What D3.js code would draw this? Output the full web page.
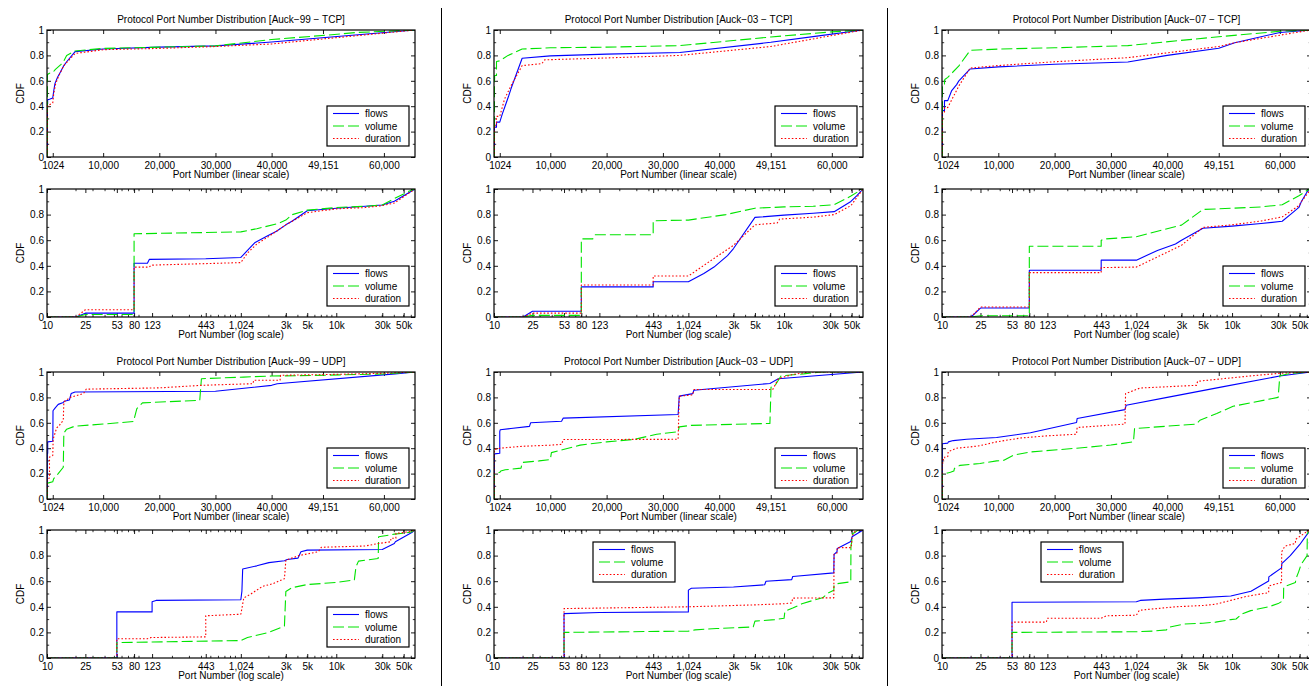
<!DOCTYPE html>
<html>
<head>
<meta charset="utf-8">
<script src="https://cdn.jsdelivr.net/npm/d3@7"></script>
<style>
  html, body { margin: 0; padding: 0; background: #fff; }
  svg { display: block; }
  text { font-family: "Liberation Sans", Arial, Helvetica, sans-serif; fill: #000; }
</style>
</head>
<body>
<svg id="chart" width="1309" height="686"></svg>
<script>
// ---- CDF of port numbers: [port, cumulative fraction] ----
const tcp99Flows = [[10,0],[20,0],[25,0.03],[80,0.03],[80,0.42],[110,0.42],[115,0.45],[443,0.455],[1024,0.465],[1200,0.52],[1424,0.58],[1900,0.63],[2400,0.67],[3000,0.72],[3500,0.75],[5000,0.83],[10000,0.85],[20000,0.865],[30000,0.875],[40000,0.905],[65535,1]];
const tcp99Volume = [[10,0],[20,0],[25,0.02],[80,0.02],[80,0.65],[443,0.66],[1024,0.665],[1500,0.69],[2500,0.73],[3000,0.757],[3500,0.8],[5000,0.835],[10000,0.855],[20000,0.865],[30000,0.875],[40000,0.925],[50000,0.96],[55000,0.98],[65535,1]];
const tcp99Duration = [[10,0],[20,0],[25,0.057],[80,0.057],[80,0.39],[115,0.39],[120,0.405],[1024,0.425],[1200,0.5],[1500,0.57],[2000,0.63],[3000,0.72],[5000,0.815],[10000,0.845],[20000,0.855],[30000,0.87],[40000,0.89],[65535,1]];

const tcp03Flows = [[10,0],[20,0],[25,0.045],[80,0.045],[80,0.235],[443,0.235],[443,0.275],[1024,0.275],[1480,0.34],[1885,0.39],[2600,0.48],[3000,0.535],[5000,0.778],[10000,0.796],[20000,0.81],[33000,0.823],[49151,0.903],[57000,0.95],[65535,1]];
const tcp03Volume = [[10,0],[20,0],[25,0.013],[80,0.013],[80,0.61],[105,0.61],[110,0.642],[443,0.642],[443,0.752],[1024,0.757],[2500,0.8],[5000,0.85],[10000,0.86],[20000,0.865],[33000,0.877],[49151,0.945],[60000,0.985],[65535,1]];
const tcp03Duration = [[10,0],[20,0],[25,0.03],[80,0.03],[80,0.25],[443,0.25],[443,0.32],[1024,0.32],[1880,0.457],[3000,0.56],[5000,0.72],[8500,0.735],[9000,0.765],[20000,0.78],[33000,0.8],[49151,0.87],[65535,1]];

const tcp07Flows = [[10,0],[20,0],[25,0.07],[80,0.07],[80,0.365],[443,0.365],[443,0.444],[1024,0.444],[1690,0.52],[2600,0.57],[3000,0.6],[5000,0.693],[10000,0.71],[20000,0.73],[33000,0.748],[40000,0.8],[49151,0.856],[52000,0.9],[60000,0.98],[65535,1]];
const tcp07Volume = [[10,0],[20,0],[25,0.01],[80,0.01],[80,0.553],[443,0.553],[443,0.6],[500,0.61],[1024,0.627],[3000,0.718],[5000,0.84],[10000,0.85],[20000,0.86],[33000,0.877],[49151,0.947],[60000,0.99],[65535,1]];
const tcp07Duration = [[10,0],[20,0],[25,0.078],[80,0.078],[80,0.347],[443,0.347],[443,0.386],[1024,0.39],[3000,0.56],[5000,0.7],[10000,0.72],[20000,0.75],[33000,0.782],[49151,0.87],[52000,0.9],[65535,1]];

const udp99Flows = [[10,0],[53,0],[53,0.36],[123,0.36],[123,0.44],[135,0.45],[1024,0.455],[1050,0.52],[1070,0.695],[1500,0.72],[2000,0.745],[2900,0.76],[3100,0.77],[4000,0.78],[4300,0.83],[5000,0.843],[30000,0.848],[40000,0.895],[41000,0.908],[62000,0.985],[65535,1]];
const udp99Volume = [[10,0],[53,0],[53,0.12],[123,0.125],[1024,0.136],[1200,0.16],[2000,0.2],[2900,0.25],[3000,0.52],[3500,0.55],[5000,0.574],[10000,0.59],[15400,0.61],[16000,0.712],[17000,0.757],[27200,0.777],[27500,0.947],[35000,0.96],[40000,0.968],[50000,0.975],[60000,0.985],[65535,1]];
const udp99Duration = [[10,0],[53,0],[53,0.15],[110,0.15],[120,0.16],[443,0.165],[443,0.33],[1024,0.342],[1100,0.47],[1300,0.5],[1720,0.56],[2200,0.58],[2900,0.62],[3000,0.764],[4100,0.8],[6500,0.83],[7000,0.865],[20000,0.875],[27500,0.895],[36700,0.908],[36800,0.935],[41500,0.935],[41600,0.974],[50000,0.98],[60000,0.99],[65535,1]];

const udp03Flows = [[10,0],[53,0],[53,0.347],[123,0.355],[1024,0.36],[1024,0.53],[1100,0.545],[3000,0.555],[6300,0.572],[6500,0.6],[12000,0.612],[12300,0.637],[32700,0.665],[32900,0.81],[35300,0.83],[35500,0.856],[49000,0.91],[50500,0.947],[65535,1]];
const udp03Volume = [[10,0],[53,0],[53,0.2],[1024,0.21],[1200,0.22],[2000,0.23],[4800,0.243],[5000,0.288],[8000,0.3],[10000,0.31],[10200,0.365],[12300,0.39],[15300,0.424],[20000,0.45],[25000,0.47],[28900,0.51],[32700,0.53],[32900,0.568],[35000,0.58],[49000,0.595],[49200,0.88],[50000,0.9],[51000,0.97],[55000,0.985],[58000,1],[65535,1]];
const udp03Duration = [[10,0],[53,0],[53,0.386],[123,0.39],[1024,0.4],[5000,0.415],[10000,0.424],[12000,0.43],[12300,0.468],[32700,0.47],[32900,0.81],[35300,0.82],[35500,0.862],[49500,0.862],[50500,0.947],[53000,0.98],[56000,1],[65535,1]];

const udp07Flows = [[10,0],[53,0],[53,0.435],[1024,0.44],[1125,0.45],[2000,0.46],[4380,0.47],[9700,0.484],[15700,0.522],[23900,0.602],[24000,0.634],[32500,0.704],[32700,0.738],[40000,0.8],[50000,0.885],[60000,0.968],[65535,1]];
const udp07Volume = [[10,0],[53,0],[53,0.2],[1024,0.205],[1500,0.21],[2100,0.22],[2200,0.24],[3200,0.265],[5000,0.272],[6750,0.28],[9700,0.3],[11000,0.305],[12700,0.345],[15600,0.37],[23900,0.4],[30000,0.425],[34000,0.45],[34200,0.555],[45200,0.59],[45800,0.62],[48800,0.673],[51700,0.73],[59700,0.8],[60000,0.97],[62000,0.99],[65535,1]];
const udp07Duration = [[10,0],[53,0],[53,0.28],[120,0.28],[123,0.31],[443,0.31],[500,0.33],[1024,0.334],[1100,0.373],[2600,0.4],[5000,0.41],[6750,0.42],[9700,0.45],[13900,0.48],[18600,0.497],[23900,0.51],[24000,0.563],[32500,0.59],[32600,0.83],[35200,0.874],[45200,0.895],[45400,0.927],[54100,0.966],[60000,0.99],[65535,1]];

// ---- categories and tick labels ----
const traceNames = ["Auck\u221299", "Auck\u221203", "Auck\u221207"];
const protocols = ["TCP", "UDP"];
const seriesNames = ["flows", "volume", "duration"];
const linearTicks = [1024, 10000, 20000, 30000, 40000, 49151, 60000];
const linearTickLabels = ["1024", "10,000", "20,000", "30,000", "40,000", "49,151", "60,000"];
const logTicks = [10, 25, 53, 80, 123, 443, 1024, 3000, 5000, 10000, 30000, 50000];
const logTickLabels = ["10", "25", "53", "80", "123", "443", "1,024", "3k", "5k", "10k", "30k", "50k"];
const cdfTicks = [0, 0.2, 0.4, 0.6, 0.8, 1];
const cdfTickLabels = ["0", "0.2", "0.4", "0.6", "0.8", "1"];

const seriesByPanel = {
  "0-TCP": [tcp99Flows, tcp99Volume, tcp99Duration],
  "1-TCP": [tcp03Flows, tcp03Volume, tcp03Duration],
  "2-TCP": [tcp07Flows, tcp07Volume, tcp07Duration],
  "0-UDP": [udp99Flows, udp99Volume, udp99Duration],
  "1-UDP": [udp03Flows, udp03Volume, udp03Duration],
  "2-UDP": [udp07Flows, udp07Volume, udp07Duration]
};

// ---- layout & styling ----
const PORT_MAX = 65535;
const columns = [{ left: 47, width: 368 }, { left: 494, width: 369 }, { left: 942, width: 369 }];
const rows = [
  { top: 30, height: 127, scale: "linear", proto: "TCP", title: true },
  { top: 189, height: 128, scale: "log", proto: "TCP", title: false },
  { top: 372, height: 127, scale: "linear", proto: "UDP", title: true },
  { top: 530, height: 128, scale: "log", proto: "UDP", title: false }
];
const seriesStyle = [
  { color: "#0000ff", dash: null, width: 1.1 },
  { color: "#00e400", dash: "11,4", width: 1.1 },
  { color: "#ff0000", dash: "1.6,2", width: 1.1 }
];
const FONT = 10;
const TICK = 4;

const svg = d3.select("#chart");
const defs = svg.append("defs");

// separators between the three trace columns
[441.5, 887.5].forEach(xs => {
  svg.append("line").attr("x1", xs).attr("x2", xs).attr("y1", 8).attr("y2", 686)
    .attr("stroke", "#000").attr("stroke-width", 1);
});

let clipId = 0;
columns.forEach((col, ci) => {
  rows.forEach((row, ri) => {
    const w = col.width, h = row.height;
    const g = svg.append("g").attr("transform", `translate(${col.left},${row.top})`);

    const x = row.scale === "linear"
      ? d3.scaleLinear().domain([0, PORT_MAX]).range([0, w])
      : d3.scaleLog().domain([10, PORT_MAX]).range([0, w]);
    const y = d3.scaleLinear().domain([0, 1]).range([h, 0]);
    const xt = row.scale === "linear" ? linearTicks : logTicks;
    const xl = row.scale === "linear" ? linearTickLabels : logTickLabels;

    // minor ticks
    const minorX = [];
    if (row.scale === "log") {
      [10, 100, 1000, 10000].forEach(dec => {
        for (let k = 2; k <= 9; k++) { const v = dec * k; if (v <= PORT_MAX) minorX.push(v); }
      });
    }
    const minorY = d3.range(0.1, 1, 0.2);
    const mt = g.append("g").attr("stroke", "#000").attr("stroke-width", 0.8);
    minorX.forEach(v => {
      const px = x(v);
      mt.append("line").attr("x1", px).attr("x2", px).attr("y1", h).attr("y2", h - 2.2);
      mt.append("line").attr("x1", px).attr("x2", px).attr("y1", 0).attr("y2", 2.2);
    });
    minorY.forEach(v => {
      const py = y(v);
      mt.append("line").attr("x1", 0).attr("x2", 2.2).attr("y1", py).attr("y2", py);
      mt.append("line").attr("x1", w).attr("x2", w - 2.2).attr("y1", py).attr("y2", py);
    });

    // axes (ticks point inward, box on all sides)
    const ax = g.append("g").attr("transform", `translate(0,${h})`)
      .call(d3.axisBottom(x).tickValues(xt).tickFormat((d, i) => xl[i]).tickSize(-TICK).tickPadding(4.5));
    const axTop = g.append("g")
      .call(d3.axisTop(x).tickValues(xt).tickFormat("").tickSize(-TICK));
    const ay = g.append("g")
      .call(d3.axisLeft(y).tickValues(cdfTicks).tickFormat((d, i) => cdfTickLabels[i]).tickSize(-TICK).tickPadding(3));
    const ayR = g.append("g").attr("transform", `translate(${w},0)`)
      .call(d3.axisRight(y).tickValues(cdfTicks).tickFormat("").tickSize(-TICK));
    [ax, axTop, ay, ayR].forEach(a => {
      a.select(".domain").remove();
      a.selectAll("line").attr("stroke", "#000").attr("stroke-width", 0.9);
      a.selectAll("text").attr("font-size", FONT).attr("fill", "#000")
        .attr("font-family", "\"Liberation Sans\", Arial, sans-serif");
    });

    // data lines
    const cid = "clip" + (clipId++);
    defs.append("clipPath").attr("id", cid).append("rect").attr("width", w).attr("height", h);
    const line = d3.line().x(d => x(d[0])).y(d => y(d[1]));
    const data = seriesByPanel[ci + "-" + row.proto];
    const lg = g.append("g").attr("clip-path", `url(#${cid})`);
    data.forEach((s, si) => {
      const st = seriesStyle[si];
      lg.append("path").datum(s).attr("d", line)
        .attr("fill", "none").attr("stroke", st.color).attr("stroke-width", st.width)
        .attr("stroke-dasharray", st.dash).attr("stroke-linejoin", "round");
    });

    // frame
    g.append("rect").attr("width", w).attr("height", h)
      .attr("fill", "none").attr("stroke", "#000").attr("stroke-width", 1.2);

    // labels
    if (row.title) {
      g.append("text").attr("x", w / 2).attr("y", -7.5).attr("text-anchor", "middle")
        .attr("font-size", FONT)
        .text(`Protocol Port Number Distribution [${traceNames[ci]} \u2212 ${row.proto}]`);
    }
    g.append("text").attr("x", w / 2).attr("y", h + 21).attr("text-anchor", "middle")
      .attr("font-size", FONT)
      .text(row.scale === "linear" ? "Port Number (linear scale)" : "Port Number (log scale)");
    g.append("text").attr("transform", `translate(-23,${h / 2}) rotate(-90)`)
      .attr("text-anchor", "middle").attr("font-size", FONT).text("CDF");

    // legend
    const lw = 82, lh = 40;
    const topLeft = row.proto === "UDP" && row.scale === "log" && ci > 0;
    const lx = topLeft ? 99 : w - lw - 6;
    const ly = topLeft ? 12 : h - lh - 11;
    const leg = g.append("g").attr("transform", `translate(${lx},${ly})`);
    leg.append("rect").attr("width", lw).attr("height", lh)
      .attr("fill", "#fff").attr("stroke", "#000").attr("stroke-width", 1.2);
    seriesNames.forEach((name, si) => {
      const st = seriesStyle[si];
      const yy = 7.5 + si * 12.5;
      leg.append("line").attr("x1", 6).attr("x2", 32).attr("y1", yy).attr("y2", yy)
        .attr("stroke", st.color).attr("stroke-width", st.width).attr("stroke-dasharray", st.dash);
      leg.append("text").attr("x", 38).attr("y", yy + 3.5).attr("font-size", FONT).text(name);
    });
  });
});
</script>
</body>
</html>
